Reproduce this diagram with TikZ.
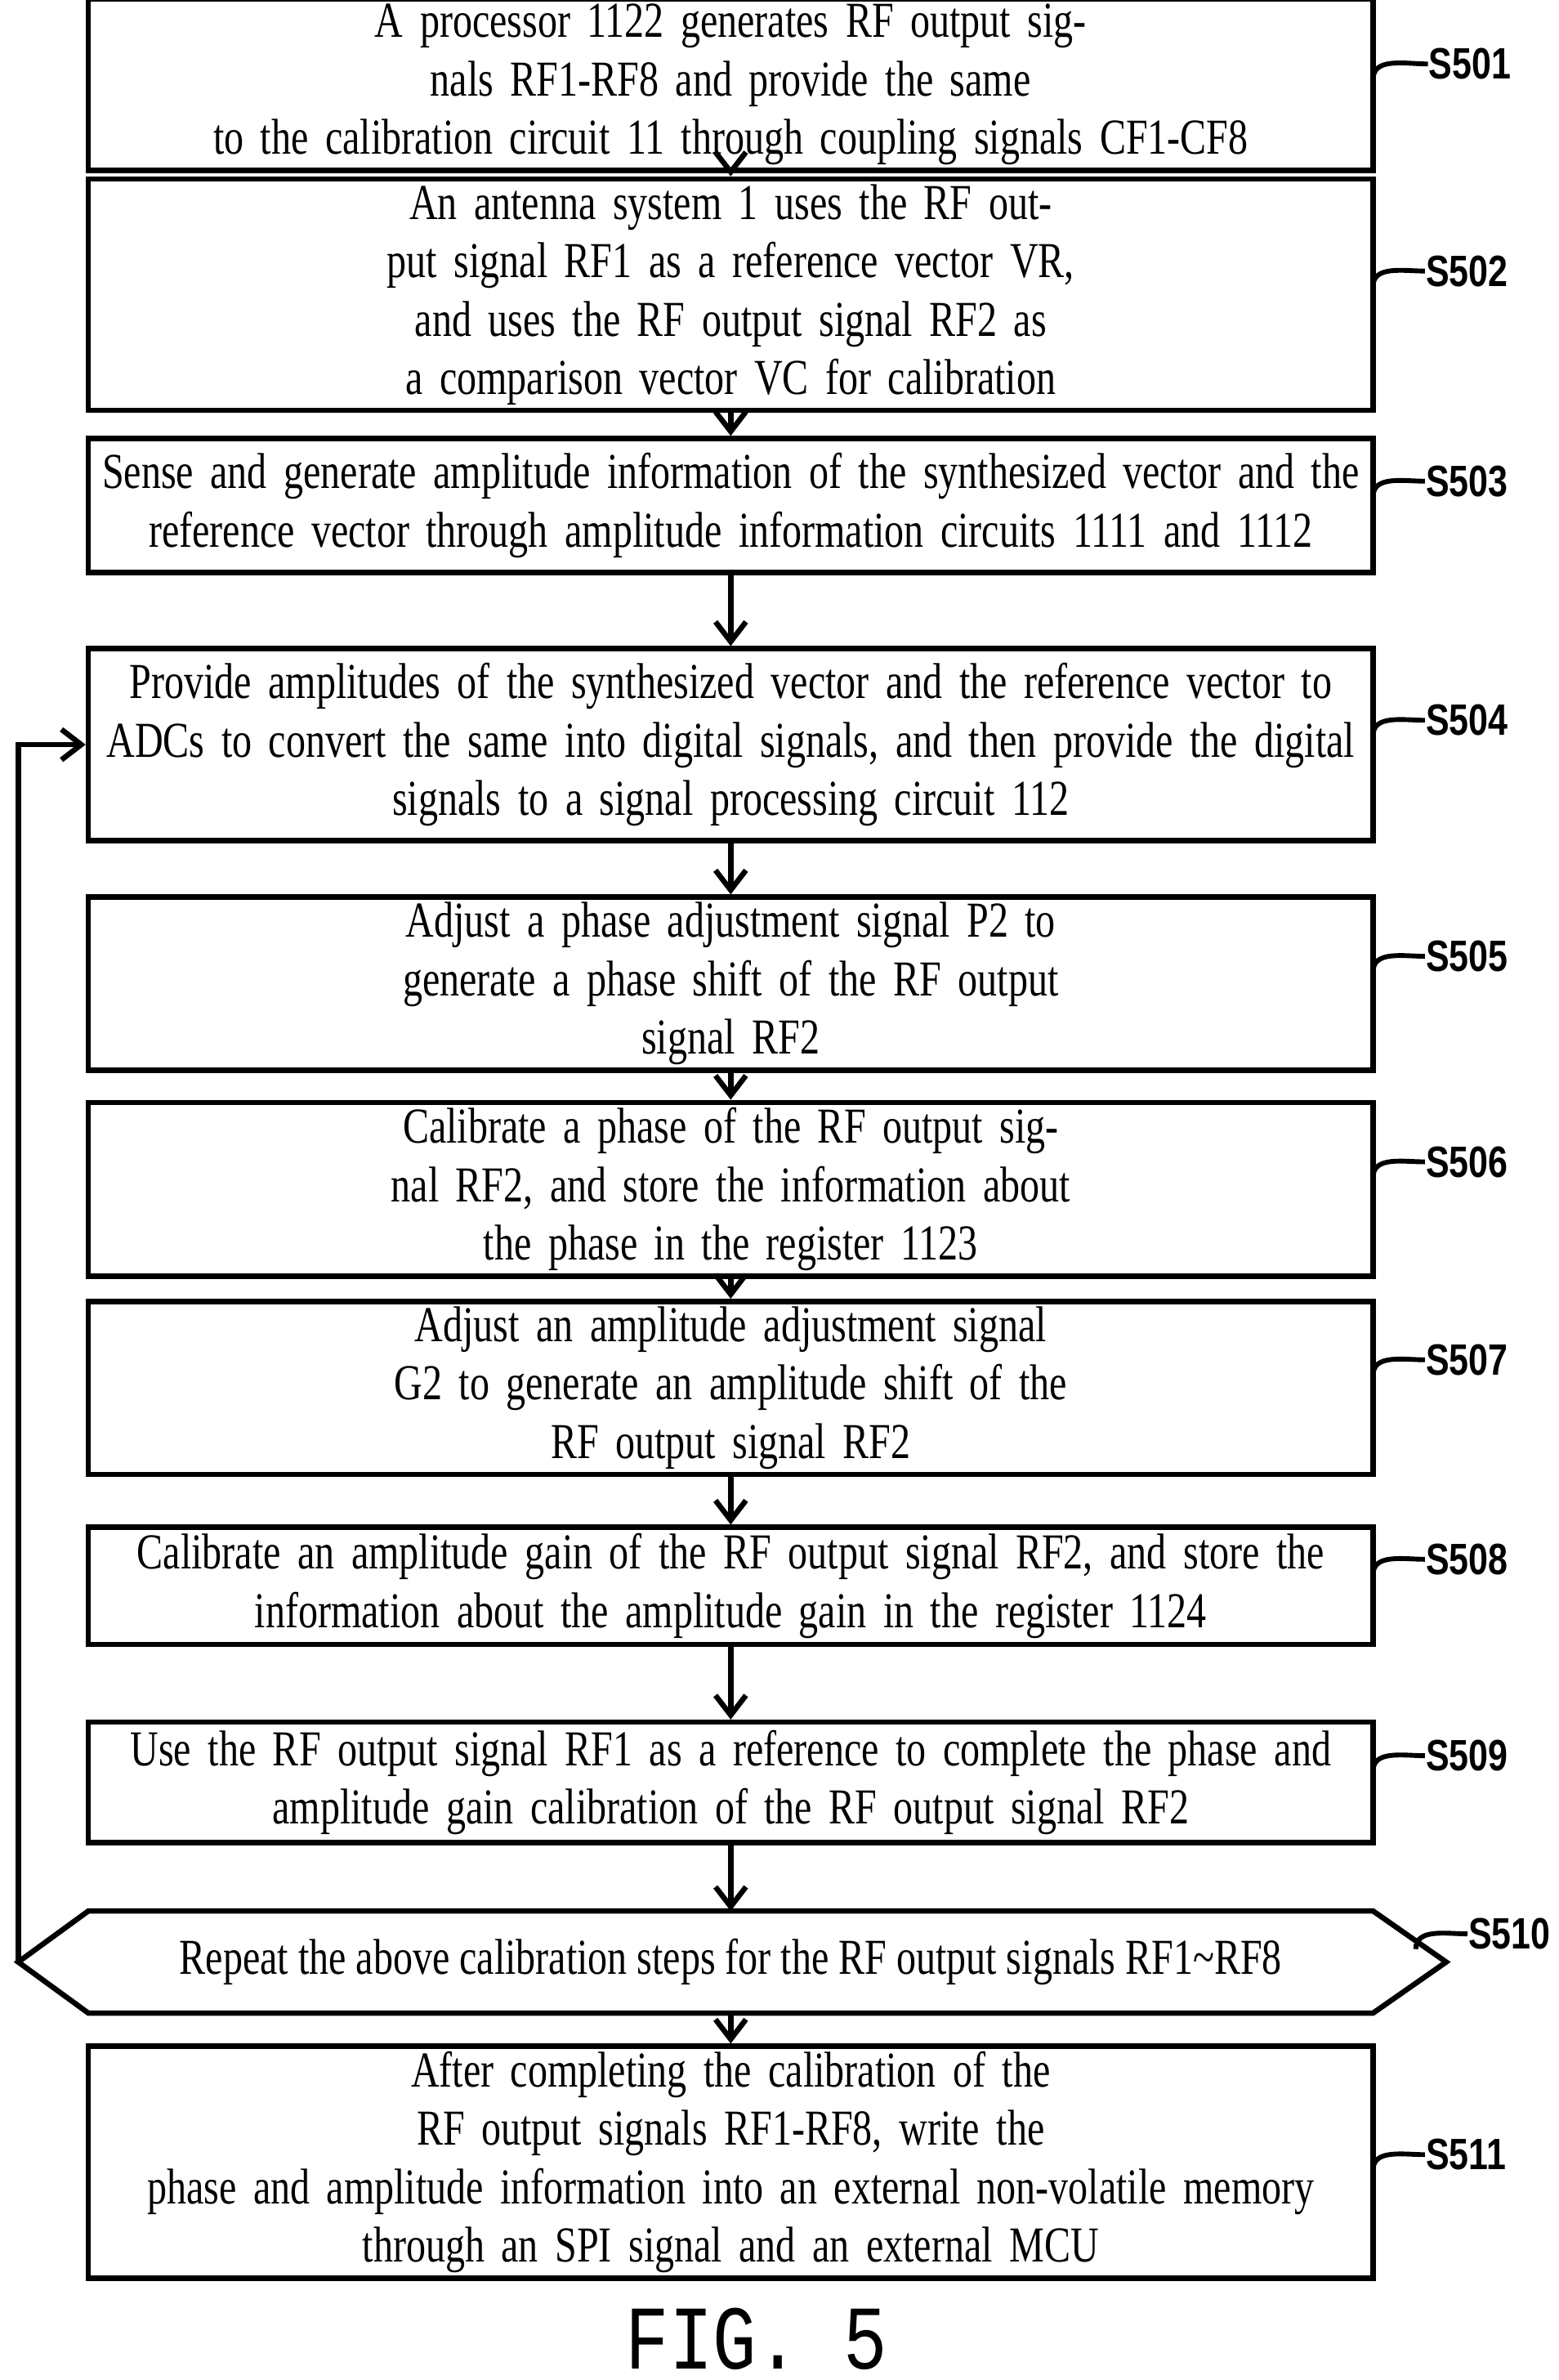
\documentclass[tikz,border=0pt]{standalone}
\usepackage{fontspec}
\setmainfont[FakeStretch=0.78]{Liberation Serif}
\newfontfamily\lblfont[FakeStretch=0.8]{Liberation Sans}
\newfontfamily\figfont[FakeStretch=0.8]{Liberation Mono}
\usetikzlibrary{arrows.meta}

\tikzset{
  stepbox/.style={draw, line width=1pt, text width=8.36cm, inner xsep=0.04cm, inner ysep=1pt, align=center,
    font=\fontsize{9.4pt}{10.9pt}\selectfont},
  steplbl/.style={anchor=west, inner sep=0pt, font=\lblfont\bfseries\fontsize{8.2pt}{9pt}\selectfont},
  flow/.style={line width=1pt, -{Straight Barb[length=1.3mm, width=2mm]}},
  lead/.style={line width=0.9pt}
}

\begin{document}
\begin{tikzpicture}
  \useasboundingbox (0,0) rectangle (10.24,-15.63);

  \node[stepbox, minimum height=0.87cm] (s501) at (4.80,-0.555) {A processor 1122 generates RF output signals RF1-RF8 and provide the same\\to the calibration circuit 11 through coupling signals CF1-CF8};
  \node[stepbox, minimum height=0.87cm] (s502) at (4.80,-1.935) {An antenna system 1 uses the RF output signal RF1 as a reference vector VR,\\and uses the RF output signal RF2 as a comparison vector VC for calibration};
  \node[stepbox, minimum height=0.88cm] (s503) at (4.80,-3.32) {Sense and generate amplitude information of the synthesized vector and the\\reference vector through amplitude information circuits 1111 and 1112};
  \node[stepbox, minimum height=1.26cm] (s504) at (4.80,-4.89) {Provide amplitudes of the synthesized vector and the reference vector to\\ADCs to convert the same into digital signals, and then provide the digital\\signals to a signal processing circuit 112};
  \node[stepbox, minimum height=0.82cm] (s505) at (4.80,-6.46) {Adjust a phase adjustment signal P2 to generate a phase shift of the RF output\\signal RF2};
  \node[stepbox, minimum height=0.82cm] (s506) at (4.80,-7.81) {Calibrate a phase of the RF output signal RF2, and store the information about\\the phase in the register 1123};
  \node[stepbox, minimum height=0.77cm] (s507) at (4.80,-9.115) {Adjust an amplitude adjustment signal G2 to generate an amplitude shift of the\\RF output signal RF2};
  \node[stepbox, minimum height=0.77cm] (s508) at (4.80,-10.415) {Calibrate an amplitude gain of the RF output signal RF2, and store the\\information about the amplitude gain in the register 1124};
  \node[stepbox, minimum height=0.79cm] (s509) at (4.80,-11.705) {Use the RF output signal RF1 as a reference to complete the phase and\\amplitude gain calibration of the RF output signal RF2};

  % repeat decision
  \coordinate (hl) at (0.12,-12.885);
  \coordinate (hr) at (9.50,-12.885);
  \draw[line width=1pt] (hl) -- (0.58,-12.55) -- (9.02,-12.55) -- (hr) -- (9.02,-13.22) -- (0.58,-13.22) -- cycle;
  \node[font=\fontsize{9.4pt}{10.9pt}\selectfont] (s510) at (4.80,-12.885) {Repeat the above calibration steps for the RF output signals RF1\textasciitilde RF8};
  \coordinate (s510n) at (4.80,-12.55);
  \coordinate (s510s) at (4.80,-13.22);

  \node[stepbox, minimum height=1.48cm] (s511) at (4.80,-14.20) {After completing the calibration of the RF output signals RF1-RF8, write the\\phase and amplitude information into an external non-volatile memory\\through an SPI signal and an external MCU};

  \draw[flow] (s501) -- (s502);
  \draw[flow] (s502) -- (s503);
  \draw[flow] (s503) -- (s504);
  \draw[flow] (s504) -- (s505);
  \draw[flow] (s505) -- (s506);
  \draw[flow] (s506) -- (s507);
  \draw[flow] (s507) -- (s508);
  \draw[flow] (s508) -- (s509);
  \draw[flow] (s509) -- (s510n);
  \draw[flow] (s510s) -- (s511);
  \draw[flow] (hl) |- (s504.west);

  % step labels
  \node[steplbl] (l501) at (9.38,-0.42) {S501};
  \node[steplbl] (l502) at (9.36,-1.78) {S502};
  \node[steplbl] (l503) at (9.36,-3.16) {S503};
  \node[steplbl] (l504) at (9.36,-4.73) {S504};
  \node[steplbl] (l505) at (9.36,-6.28) {S505};
  \node[steplbl] (l506) at (9.36,-7.63) {S506};
  \node[steplbl] (l507) at (9.36,-8.93) {S507};
  \node[steplbl] (l508) at (9.36,-10.24) {S508};
  \node[steplbl] (l509) at (9.36,-11.53) {S509};
  \node[steplbl] (l510) at (9.64,-12.70) {S510};
  \node[steplbl] (l511) at (9.36,-14.15) {S511};

  \draw[lead] (9.02,-0.52) to[out=90,in=180] (l501.west);
  \draw[lead] (9.02,-1.88) to[out=90,in=180] (l502.west);
  \draw[lead] (9.02,-3.26) to[out=90,in=180] (l503.west);
  \draw[lead] (9.02,-4.83) to[out=90,in=180] (l504.west);
  \draw[lead] (9.02,-6.38) to[out=90,in=180] (l505.west);
  \draw[lead] (9.02,-7.73) to[out=90,in=180] (l506.west);
  \draw[lead] (9.02,-9.03) to[out=90,in=180] (l507.west);
  \draw[lead] (9.02,-10.34) to[out=90,in=180] (l508.west);
  \draw[lead] (9.02,-11.63) to[out=90,in=180] (l509.west);
  \draw[lead] (9.30,-12.80) to[out=90,in=180] (l510.west);
  \draw[lead] (9.02,-14.25) to[out=90,in=180] (l511.west);

  \node[font=\figfont\fontsize{17pt}{18pt}\selectfont] (fig) at (4.97,-15.36) {FIG. 5};
\end{tikzpicture}
\end{document}
